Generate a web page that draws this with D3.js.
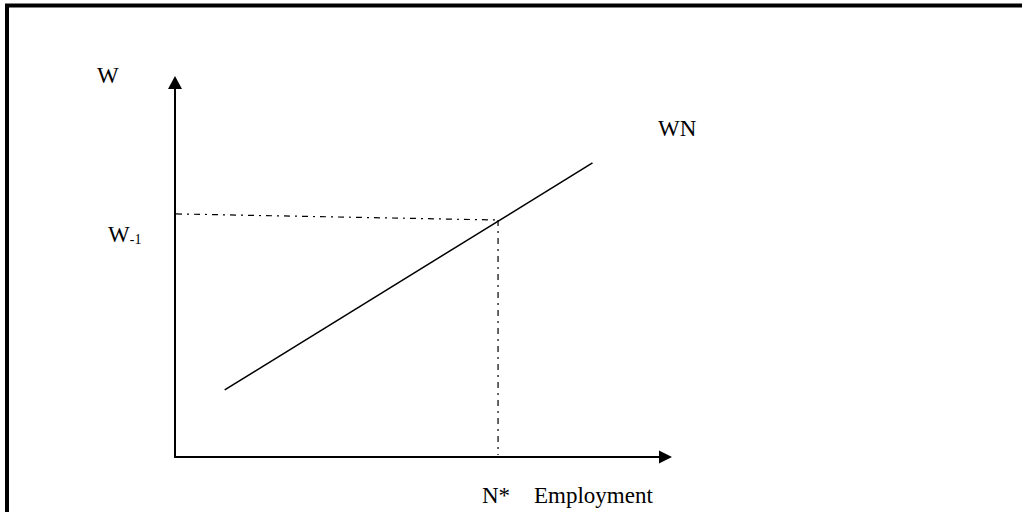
<!DOCTYPE html>
<html>
<head>
<meta charset="utf-8">
<script src="https://cdn.jsdelivr.net/npm/d3@7"></script>
<style>
  html, body { margin: 0; padding: 0; background: #fff; overflow: hidden; }
  svg { display: block; }
</style>
</head>
<body>
<svg id="chart" width="1022" height="512"></svg>
<script>
// ---- data (schematic units, 0-100 on each axis) ----
const wnX = [10, 84];          // WN curve endpoints, employment
const wnY = [17.6, 77.2];      // WN curve endpoints, wage
const nStar = [65];            // N*
const wPrevY = [63.8, 62.2];   // W-1 guide, left end and at N*
const axisLabels = ["W", "Employment"];
const curveLabels = ["WN"];
const markLabels = ["N*", "W"];

const FONT = "'Liberation Serif', 'Times New Roman', Times, serif";
const svg = d3.select("#chart");
const x = d3.scaleLinear().domain([0, 100]).range([175, 672]);
const y = d3.scaleLinear().domain([0, 100]).range([457, 76]);

// frame (top and left edges)
svg.append("path")
  .attr("d", "M7,512 L7,5.5 L1022,5.5")
  .attr("fill", "none").attr("stroke", "#000").attr("stroke-width", 4);

// axes
svg.append("line")
  .attr("x1", x(0)).attr("y1", y(0)).attr("x2", x(0)).attr("y2", y(100) + 10)
  .attr("stroke", "#000").attr("stroke-width", 2);
svg.append("line")
  .attr("x1", x(0) - 1).attr("y1", y(0)).attr("x2", x(100) - 10).attr("y2", y(0))
  .attr("stroke", "#000").attr("stroke-width", 2);
// arrowheads
svg.append("path")
  .attr("d", `M${x(0)},${y(100)} L${x(0) - 7},${y(100) + 13} L${x(0) + 7},${y(100) + 13} Z`)
  .attr("fill", "#000");
svg.append("path")
  .attr("d", `M${x(100)},${y(0)} L${x(100) - 13},${y(0) - 6.5} L${x(100) - 13},${y(0) + 6.5} Z`)
  .attr("fill", "#000");

// WN curve
const wnData = wnX.map((d, i) => ({ x: d, y: wnY[i] }));
svg.append("path")
  .datum(wnData)
  .attr("d", d3.line().x(d => x(d.x)).y(d => y(d.y)))
  .attr("fill", "none").attr("stroke", "#000").attr("stroke-width", 1.5);

// W-1 guide (dash-dot)
svg.append("line")
  .attr("x1", x(0) + 1).attr("y1", y(wPrevY[0]))
  .attr("x2", x(nStar[0])).attr("y2", y(wPrevY[1]))
  .attr("stroke", "#000").attr("stroke-width", 1.2)
  .attr("stroke-dasharray", "6,5,2,5");
// N* guide (dash-dot)
svg.append("line")
  .attr("x1", x(nStar[0])).attr("y1", y(wPrevY[1]))
  .attr("x2", x(nStar[0])).attr("y2", y(0) - 2)
  .attr("stroke", "#000").attr("stroke-width", 1.2)
  .attr("stroke-dasharray", "6,5,2,5");

const fs = 23;
function label(px, py, t) {
  return svg.append("text").attr("x", px).attr("y", py)
    .attr("font-family", FONT).attr("font-size", fs).attr("fill", "#000").text(t);
}
label(97, 83, axisLabels[0]);
label(534, 503, axisLabels[1]);
label(658, 136, curveLabels[0]);
label(482, 503, markLabels[0]);
const wl = svg.append("text").attr("x", 108).attr("y", 242)
  .attr("font-family", FONT).attr("font-size", fs).attr("fill", "#000");
wl.append("tspan").text(markLabels[1]);
wl.append("tspan").attr("font-size", 14).attr("dy", 2).text("-1");
</script>
</body>
</html>
